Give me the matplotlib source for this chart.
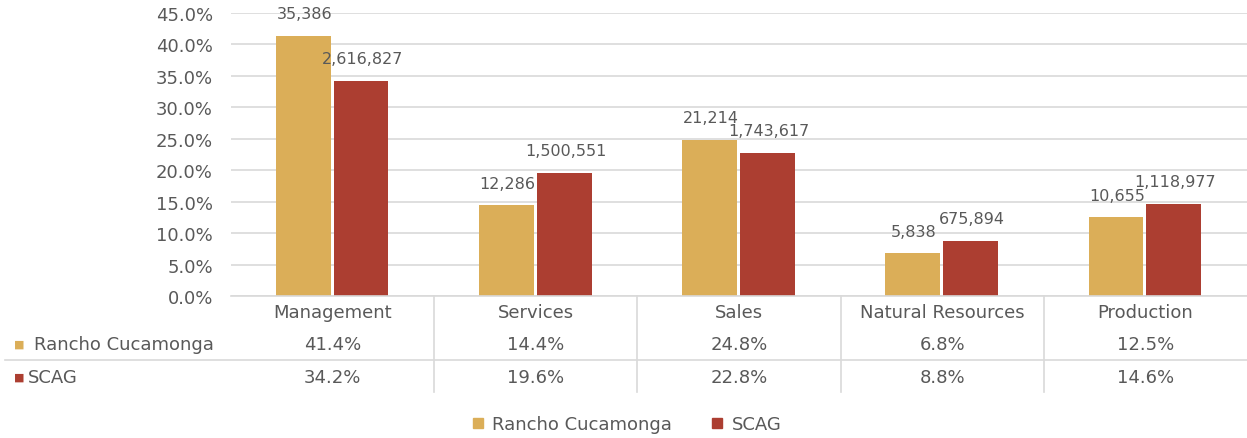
import matplotlib
matplotlib.use("Agg")
import matplotlib.pyplot as plt
from matplotlib.lines import Line2D
import numpy as np

categories = ["Management", "Services", "Sales", "Natural Resources", "Production"]
series = ["Rancho Cucamonga", "SCAG"]
rancho_pct = [41.4, 14.4, 24.8, 6.8, 12.5]
scag_pct = [34.2, 19.6, 22.8, 8.8, 14.6]
rancho_count = [35386, 12286, 21214, 5838, 10655]
scag_count = [2616827, 1500551, 1743617, 675894, 1118977]
yticks = np.arange(0, 46, 5)

c_rancho = "#DBAE58"
c_scag = "#AC3E31"
txt = "#595959"
grid = "#D9D9D9"

plt.rcParams['font.family'] = ['DejaVu Sans']

fig = plt.figure(figsize=(12.47, 4.39), dpi=100)
W, H = 1247, 439
ax = fig.add_axes([231 / W, (H - 297) / H, 1016 / W, 283 / H])

x = np.arange(len(categories))
bw = 0.27
ax.bar(x - 0.145, rancho_pct, bw, color=c_rancho, zorder=3)
ax.bar(x + 0.14, scag_pct, bw, color=c_scag, zorder=3)

for xi, v, n in zip(x - 0.145, rancho_pct, rancho_count):
    ax.annotate(f"{n:,}", (xi, v), xytext=(1, 16), textcoords="offset points",
                ha="center", va="center", fontsize=11.5, color=txt)
for xi, v, n in zip(x + 0.14, scag_pct, scag_count):
    ax.annotate(f"{n:,}", (xi, v), xytext=(1, 16), textcoords="offset points",
                ha="center", va="center", fontsize=11.5, color=txt)

ax.set_xlim(-0.5, len(categories) - 0.5)
ax.set_ylim(0, 45)
ax.set_yticks(yticks)
ax.set_yticklabels([f"{t:.1f}%" for t in yticks], fontsize=13, color=txt)
ax.tick_params(axis="y", length=0, pad=13)
ax.set_xticks([])
ax.yaxis.grid(True, color=grid, linewidth=1.2, zorder=0)
for s in ax.spines.values():
    s.set_visible(False)

# data table under the chart
tr = ax.get_xaxis_transform()
def fy(p):
    return (297 - p) / 283

ax.plot([-0.5, 4.5], [0, 0], color=grid, lw=1.2, transform=tr, clip_on=False, zorder=4)
x0 = -0.5 - 226 / 203.2
ax.plot([x0, 4.5], [fy(361), fy(361)], color=grid, lw=1.2, transform=tr, clip_on=False)
for b in np.arange(0.5, len(categories) - 1, 1):
    ax.plot([b, b], [0, fy(393)], color=grid, lw=1.2, transform=tr, clip_on=False)

for i, c in enumerate(categories):
    ax.text(i, fy(313), c, ha="center", va="center", fontsize=13, color=txt, transform=tr)
    ax.text(i, fy(345), f"{rancho_pct[i]:.1f}%", ha="center", va="center", fontsize=13, color=txt, transform=tr)
    ax.text(i, fy(378), f"{scag_pct[i]:.1f}%", ha="center", va="center", fontsize=13, color=txt, transform=tr)

fig.text(14 / W, 1 - 345 / H, "\u25A0", color=c_rancho, fontsize=8, va="center", ha="left")
fig.text(34 / W, 1 - 345 / H, series[0], color=txt, fontsize=13, va="center", ha="left")
fig.text(14 / W, 1 - 378 / H, "\u25A0", color=c_scag, fontsize=8, va="center", ha="left")
fig.text(28 / W, 1 - 378 / H, series[1], color=txt, fontsize=13, va="center", ha="left")

handles = [Line2D([], [], marker="s", linestyle="", color=c_rancho, markersize=7),
           Line2D([], [], marker="s", linestyle="", color=c_scag, markersize=7)]
fig.legend(handles, series, loc="center", bbox_to_anchor=(625 / W, 1 - 425 / H), ncol=2,
           frameon=False, fontsize=13, labelcolor=txt, handletextpad=0.3, columnspacing=2.0,
           handlelength=1.0)

fig.savefig("out.png", dpi=100)
